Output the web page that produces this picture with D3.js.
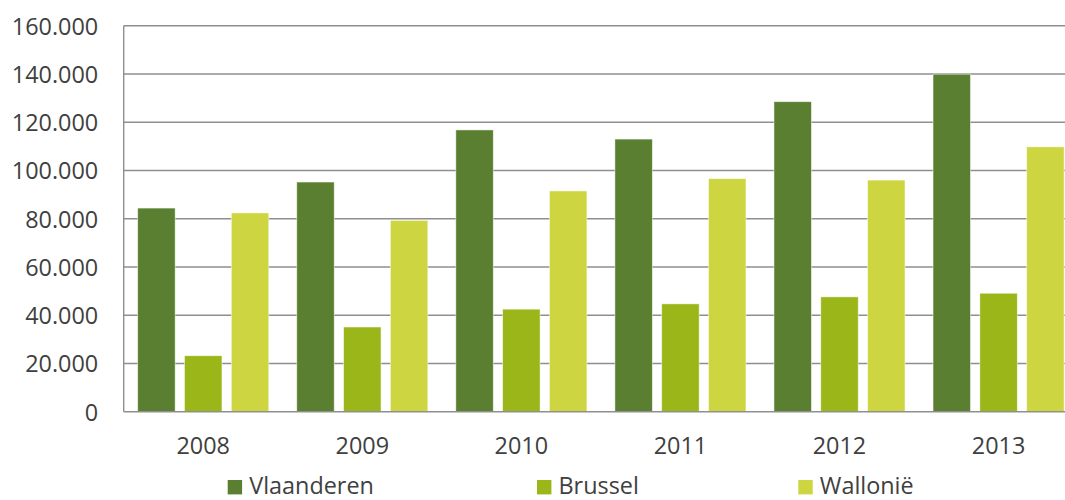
<!DOCTYPE html>
<html>
<head>
<meta charset="utf-8">
<script src="https://cdn.jsdelivr.net/npm/d3@7"></script>
<style>
  html, body { margin: 0; padding: 0; background: #fff; }
  svg { display: block; }
  text { font-family: "Open Sans", "Liberation Sans", sans-serif; fill: #404040; }
</style>
</head>
<body>
<svg id="chart" width="1065" height="500"></svg>
<script>
// ---- data ----
const years = ["2008", "2009", "2010", "2011", "2012", "2013"];
const seriesNames = ["Vlaanderen", "Brussel", "Wallonië"];
const vlaanderen = [84400, 95200, 116800, 113000, 128500, 139900];
const brussel = [23200, 35100, 42500, 44700, 47600, 49100];
const wallonie = [82400, 79300, 91500, 96600, 96000, 109800];
const yTicks = [0, 20000, 40000, 60000, 80000, 100000, 120000, 140000, 160000];
const colors = ["#5b7f30", "#9ab619", "#cdd640"];

const seriesValues = [vlaanderen, brussel, wallonie];

// ---- layout ----
const svg = d3.select("#chart");
const plotLeft = 123.7, plotRight = 1078.1, plotTop = 25.7, plotBottom = 411.7;
const fontSize = "23.4px";

const x = d3.scaleBand().domain(years).range([plotLeft, plotRight])
  .paddingInner(0.176).paddingOuter(0.088);
const xs = d3.scaleBand().domain(seriesNames).range([0, x.bandwidth()])
  .paddingInner(0.2).paddingOuter(0);
const y = d3.scaleLinear().domain([0, 160000]).range([plotBottom, plotTop]);

const fmt = v => v === 0 ? "0" : d3.format(",")(v).replace(/,/g, ".");

// gridlines
svg.append("g").selectAll("line").data(yTicks.filter(d => d > 0)).join("line")
  .attr("x1", plotLeft).attr("x2", 1065)
  .attr("y1", d => y(d)).attr("y2", d => y(d))
  .attr("stroke", "#8f8f8f").attr("stroke-width", 1.4);

// y axis labels
const yAxis = d3.axisLeft(y).tickValues(yTicks).tickFormat(fmt).tickSize(0).tickPadding(25.5);
const gy = svg.append("g").attr("transform", `translate(${plotLeft},0)`).call(yAxis);
gy.select(".domain").remove();
gy.selectAll("text").style("font-size", fontSize).attr("fill", "#404040")
  .style("font-family", "'Open Sans', sans-serif").attr("dy", "0.36em");

// bars
const groups = svg.append("g").selectAll("g").data(years).join("g")
  .attr("transform", d => `translate(${x(d)},0)`);
groups.selectAll("rect")
  .data((yr, i) => seriesNames.map((s, j) => ({ s, j, v: seriesValues[j][i] })))
  .join("rect")
  .attr("x", d => xs(d.s))
  .attr("width", xs.bandwidth())
  .attr("y", d => y(d.v))
  .attr("height", d => plotBottom - y(d.v))
  .attr("fill", d => colors[d.j])
  .attr("stroke", "rgba(255,255,255,0.6)").attr("stroke-width", 0.8);

// axes lines
svg.append("line").attr("x1", plotLeft).attr("x2", plotLeft).attr("y1", plotTop).attr("y2", plotBottom)
  .attr("stroke", "#8f8f8f").attr("stroke-width", 1.4);
svg.append("line").attr("x1", plotLeft).attr("x2", 1065).attr("y1", plotBottom).attr("y2", plotBottom)
  .attr("stroke", "#8f8f8f").attr("stroke-width", 1.4);

// x axis labels
const xAxis = d3.axisBottom(x).tickSize(0).tickPadding(0);
const gx = svg.append("g").attr("transform", `translate(0,${plotBottom})`).call(xAxis);
gx.select(".domain").remove();
gx.selectAll("text").style("font-size", fontSize).attr("fill", "#404040")
  .style("font-family", "'Open Sans', sans-serif")
  .attr("y", 42.6).attr("dy", 0);

// legend
const legendX = [227.7, 537, 798.3];
const leg = svg.append("g").selectAll("g").data(seriesNames).join("g")
  .attr("transform", (d, i) => `translate(${legendX[i]},0)`);
leg.append("rect").attr("x", 0).attr("y", 480).attr("width", 14.4).attr("height", 14.4)
  .attr("fill", (d, i) => colors[i]);
leg.append("text").attr("x", 21.5).attr("y", 494.2).style("font-size", fontSize).text(d => d);
</script>
</body>
</html>
